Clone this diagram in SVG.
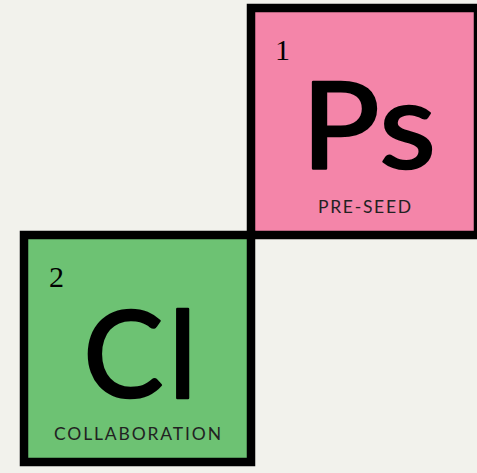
<svg xmlns="http://www.w3.org/2000/svg" width="477" height="473" viewBox="0 0 477 473">
<style>
.box{stroke:#000;stroke-width:8.5}
.num{font-family:"Liberation Serif","DejaVu Serif",serif;font-size:30px;fill:#000}
.sym{font-family:Lato,"Liberation Sans",sans-serif;font-size:120px;fill:#000;stroke:#000;stroke-width:2.5;stroke-linejoin:round;text-anchor:middle}
.lbl{font-family:Lato,"Liberation Sans",sans-serif;font-size:17.5px;fill:#222;text-anchor:middle}
</style>
<rect width="477" height="473" fill="#F2F2EC"/>
<g id="node-ps">
<rect class="box" x="251" y="8" width="227" height="227" fill="#F485A9"/>
<text class="num" x="275" y="60">1</text>
<text class="sym" transform="translate(369 168) scale(1.09 1)" x="0" y="0" letter-spacing="1">Ps</text>
<text class="lbl" x="318" y="213" textLength="93" style="text-anchor:start">PRE-SEED</text>
</g>
<g id="node-cl">
<rect class="box" x="24" y="235" width="227" height="227" fill="#6DC273"/>
<text class="num" x="49" y="287">2</text>
<text class="sym" transform="translate(142.5 397)" x="0" y="0" letter-spacing="5">Cl</text>
<text class="lbl" x="54" y="440" textLength="167" style="text-anchor:start">COLLABORATION</text>
</g>
<g id="connectors"/>
</svg>
